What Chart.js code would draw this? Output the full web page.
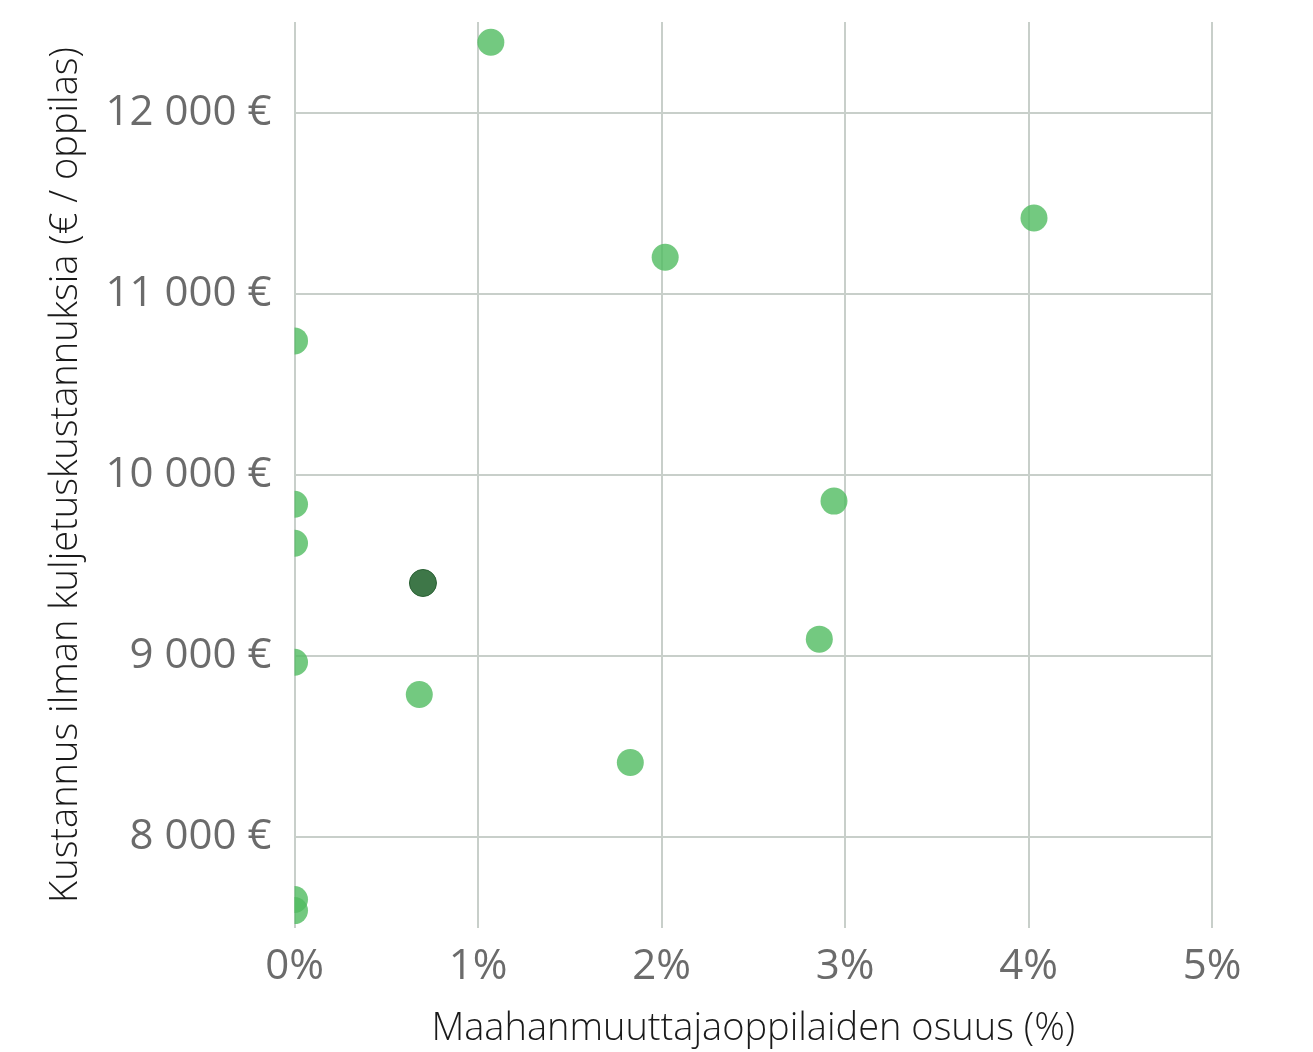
<!DOCTYPE html>
<html>
<head>
<meta charset="utf-8">
<script src="https://cdn.jsdelivr.net/npm/chart.js@4.4.1/dist/chart.umd.min.js"></script>
<style>
  html, body { margin: 0; padding: 0; background: #fff; }
  #wrap { width: 1313px; height: 1052px; position: relative; }
</style>
</head>
<body>
<div id="wrap"><canvas id="chart"></canvas></div>
<script>
// immigrant pupil share (%) vs cost per pupil without transport (€)
const shareOthers = [1.07, 4.03, 2.02, 0, 0, 2.94, 0, 2.86, 0, 0.68, 1.83, 0, 0]
const costOthers = [12388, 11418, 11202, 10740, 9839, 9856, 9623, 9094, 8967, 8789, 8413, 7657, 7596]
const shareHighlight = [0.70]
const costHighlight = [9404]

const xTicks = [0, 1, 2, 3, 4, 5]
const yTicks = [8000, 9000, 10000, 11000, 12000]

const toPoints = (xs, ys) => xs.map((x, i) => ({ x: x, y: ys[i] }))

const fontFamily = "'Open Sans', 'Noto Sans', sans-serif"

new Chart(document.getElementById('chart'), {
  type: 'scatter',
  data: {
    datasets: [{
      label: 'Valittu',
      data: toPoints(shareHighlight, costHighlight),
      backgroundColor: 'rgba(52, 112, 62, 0.95)',
      borderColor: 'rgba(40, 95, 50, 1)',
      borderWidth: 1,
      pointRadius: 13.5,
      pointHoverRadius: 13.5,
      clip: 0
    }, {
      label: 'Muut',
      data: toPoints(shareOthers, costOthers),
      backgroundColor: 'rgba(80, 187, 96, 0.8)',
      borderColor: 'rgba(80, 187, 96, 0.8)',
      borderWidth: 0,
      pointRadius: 13.5,
      pointHoverRadius: 13.5,
      clip: 0
    }]
  },
  options: {
    responsive: true,
    maintainAspectRatio: false,
    animation: false,
    layout: {
      padding: { top: 22, right: 101, bottom: 0, left: 43 }
    },
    plugins: {
      legend: { display: false },
      tooltip: { enabled: false }
    },
    scales: {
      x: {
        type: 'linear',
        min: 0,
        max: 5,
        afterBuildTicks: function(scale) {
          scale.ticks = xTicks.map(v => ({ value: v }))
        },
        grid: { color: '#c8cfca', lineWidth: 2, drawTicks: false },
        border: { display: false },
        ticks: {
          color: '#6b6b6b',
          padding: 14,
          font: { family: fontFamily, size: 42 },
          callback: function(value) {
            return value + '%'
          }
        },
        title: {
          display: true,
          text: 'Maahanmuuttajaoppilaiden osuus (%)',
          color: '#1a1a1a',
          padding: { top: 0, bottom: 0 },
          font: { family: fontFamily, size: 38, weight: 300 }
        }
      },
      y: {
        type: 'linear',
        min: 7500,
        max: 12500,
        afterBuildTicks: function(scale) {
          scale.ticks = yTicks.map(v => ({ value: v }))
        },
        afterFit: function(scale) {
          scale.paddingTop = 0
        },
        grid: { color: '#c8cfca', lineWidth: 2, drawTicks: false },
        border: { display: false },
        ticks: {
          color: '#6b6b6b',
          padding: 23,
          font: { family: fontFamily, size: 42 },
          callback: function(value) {
            return String(value).replace(/\B(?=(\d{3})+(?!\d))/g, ' ') + ' €'
          }
        },
        title: {
          display: true,
          text: 'Kustannus ilman kuljetuskustannuksia (€ / oppilas)',
          color: '#1a1a1a',
          padding: { top: 0, bottom: -6 },
          font: { family: fontFamily, size: 38, weight: 300 }
        }
      }
    }
  }
})
</script>
</body>
</html>
